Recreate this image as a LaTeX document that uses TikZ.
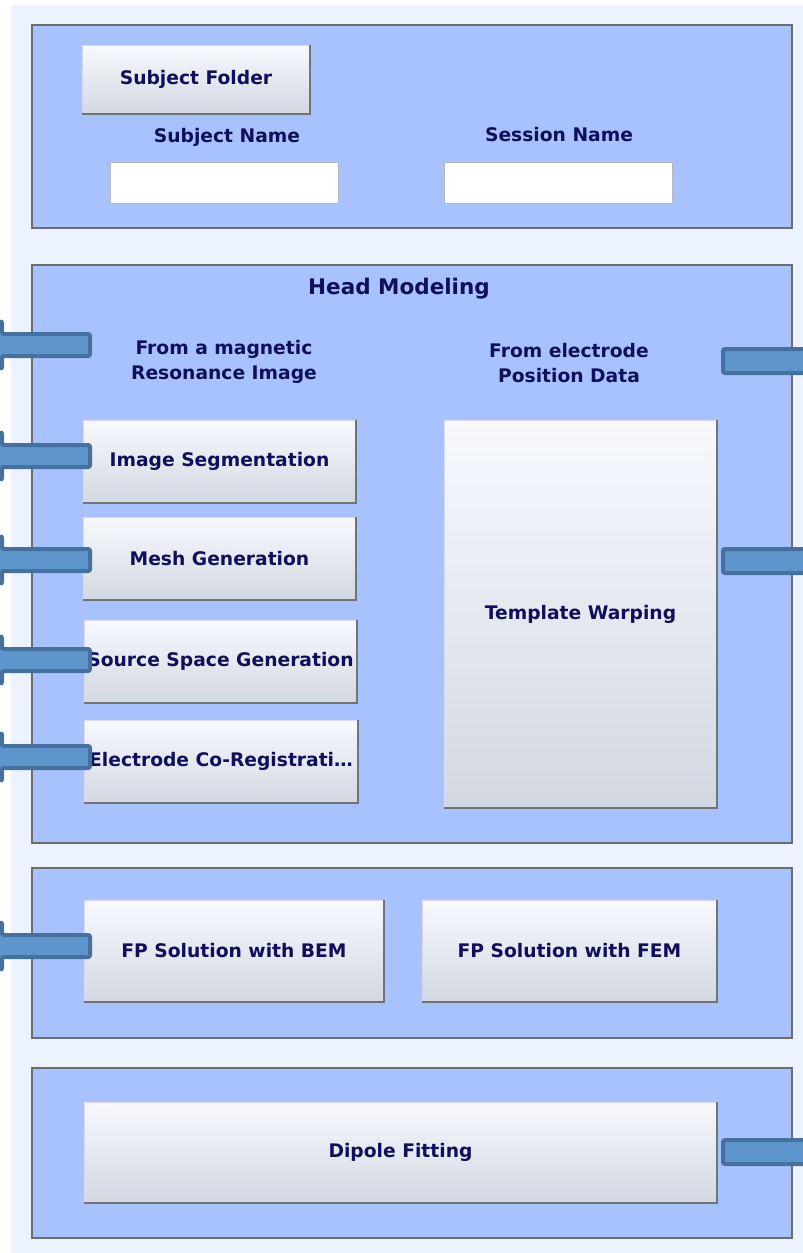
\documentclass[tikz,border=0pt]{standalone}
\usepackage{fontspec}
\setmainfont{DejaVu Sans}
\usetikzlibrary{positioning}

\definecolor{panelblue}{HTML}{A8C2FF}
\definecolor{bgblue}{HTML}{ECF3FF}
\definecolor{stubfill}{HTML}{5E95CA}
\definecolor{stubline}{HTML}{45709F}
\definecolor{btntop}{HTML}{F7F9FE}
\definecolor{btnbot}{HTML}{D2D8E1}
\definecolor{navytext}{HTML}{0F0F5C}

\begin{document}
\begin{tikzpicture}[x=1pt, y=-1pt,
    panel/.style = {draw=gray!85!black, line width=1.5pt, fill=panelblue, minimum width=760pt, inner sep=0pt},
    btn/.style = {draw=white!85!blue, top color=btntop, bottom color=btnbot, inner sep=0pt, text=navytext, font=\bfseries\fontsize{18.7}{21}\selectfont},
    btnshade/.style = {draw=gray!90!black, line width=1.5pt},
    field/.style = {draw=gray!55, line width=1pt, fill=white, minimum width=228pt, minimum height=41pt, inner sep=0pt},
    lbl/.style = {text=navytext, font=\bfseries\fontsize{18.7}{25}\selectfont, align=center},
    stub/.style = {draw=stubline, fill=stubfill, line width=4pt, rounded corners=2pt}]
    \useasboundingbox (0,0) rectangle (803,1253);
    \fill[white] (0,0) rectangle (803,1253);
    \fill[bgblue] (11,5) rectangle (803,1253);

    % panels
    \node[panel, minimum height=203pt] at (412,126.5) (subject) {};
    \node[panel, minimum height=578pt] at (412,554) (head) {};
    \node[panel, minimum height=170pt] at (412,953) (forward) {};
    \node[panel, minimum height=170pt] at (412,1153) (inverse) {};

    % subject part
    \node[btn, minimum width=228pt, minimum height=69pt] at (196,79.5) (folder) {Subject Folder};
    \node[lbl] at (227,137) (subjname) {Subject Name};
    \node[lbl] at (559,135) (sessname) {Session Name};
    \node[field] at (224,182.5) (subjfield) {};
    \node[field] at (558.5,182.5) (sessfield) {};

    % head modeling
    \node[lbl, font=\bfseries\fontsize{21.5}{24}\selectfont] at (399,289) (headtitle) {Head Modeling};
    \node[lbl] at (224,362) (fromMRI) {From a magnetic\\Resonance Image};
    \node[lbl] at (569,363) (fromElec) {From electrode\\Position Data};
    \node[btn, minimum width=273pt, minimum height=83pt] at (219.5,461.5) (seg) {Image Segmentation};
    \node[btn, minimum width=273pt, minimum height=83pt] at (219.5,558.5) (mesh) {Mesh Generation};
    \node[btn, minimum width=273pt, minimum height=83pt] at (220.5,661.5) (source) {Source Space Generation};
    \node[btn, minimum width=274pt, minimum height=83pt] at (221,761.5) (coreg) {Electrode Co-Registrati\ldots};
    \node[btn, minimum width=273pt, minimum height=388pt] at (580.5,614) (warp) {Template Warping};

    % forward problem
    \node[btn, minimum width=300pt, minimum height=102pt] at (234,951) (bem) {FP Solution with BEM};
    \node[btn, minimum width=295pt, minimum height=102pt] at (569.5,951) (fem) {FP Solution with FEM};

    % inverse
    \node[btn, minimum width=633pt, minimum height=101pt] at (400.5,1152.5) (dipole) {Dipole Fitting};

    \foreach \b in {folder,seg,mesh,source,coreg,warp,bem,fem,dipole}
        \draw[btnshade] (\b.south west) -- (\b.south east) -- (\b.north east);

    % arrow stubs at the edges
    \begin{scope}
        \clip (0,0) rectangle (803,1253);
        \foreach \c in {345,456,560,660,757,946}
            \draw[stub] (90,\c-11) -- (2,\c-11) -- (2,\c-24) -- (-40,\c) -- (2,\c+24) -- (2,\c+11) -- (90,\c+11) -- cycle;
        \foreach \c in {361,561,1152}
            \draw[stub] (723,\c-12) rectangle (830,\c+12);
    \end{scope}
\end{tikzpicture}
\end{document}
